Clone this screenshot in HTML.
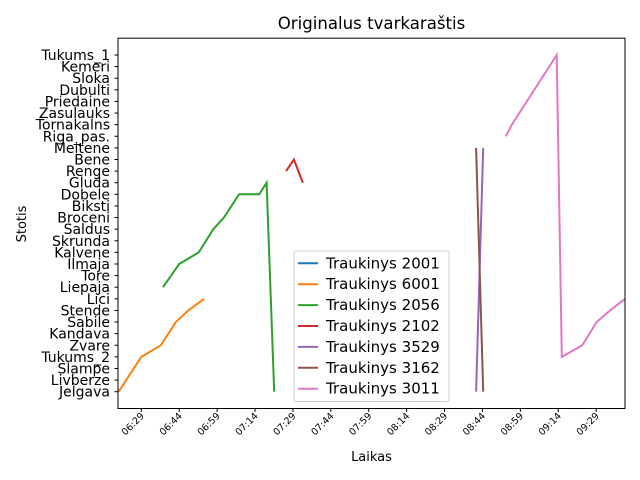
<!DOCTYPE html>
<html><head><meta charset="utf-8"><style>
body{margin:0;background:#fff;}
svg{display:block;font-family:"DejaVu Sans","Liberation Sans",sans-serif;}
</style></head><body>
<svg id="chart" width="640" height="480">
<rect x="0" y="0" width="640" height="480" fill="#fff"/>
<text x="371.5" y="29" font-size="16.6" text-anchor="middle">Originalus tvarkaraštis</text>
<text x="371.5" y="461" font-size="13" text-anchor="middle">Laikas</text>
<text transform="translate(26,224) rotate(-90)" font-size="13" text-anchor="middle">Stotis</text>
<g id="plot"></g>
<g id="axes"></g>
<g id="legend"></g>
</svg>
<script>
const stations = ["Jelgava","Livberze","Slampe","Tukums_2","Zvare","Kandava","Sabile","Stende","Lici","Liepaja","Tore","Ilmaja","Kalvene","Skrunda","Saldus","Broceni","Biksti","Dobele","Gluda","Renge","Bene","Meitene","Riga_pas.","Tornakalns","Zasulauks","Priedaine","Dubulti","Sloka","Kemeri","Tukums_1"];
const xTickMinutes = [389,404,419,434,449,464,479,494,509,524,539,554,569];
const xTickLabels = ["06:29","06:44","06:59","07:14","07:29","07:44","07:59","08:14","08:29","08:44","08:59","09:14","09:29"];
const seriesNames = ["Traukinys 2001","Traukinys 6001","Traukinys 2056","Traukinys 2102","Traukinys 3529","Traukinys 3162","Traukinys 3011"];
const seriesColors = ["#1f77b4","#ff7f0e","#2ca02c","#d62728","#9467bd","#8c564b","#e377c2"];
const times2001 = [];
const stations2001 = [];
const times6001 = [380,389,396.7,402.7,407.6,413.9];
const stations6001 = [0,3,4,6,7,8];
const times2056 = [397.6,404,411.7,417.5,421.7,427.7,435.7,438.6,441.6];
const stations2056 = [9,11,12,14,15,17,17,18,0];
const times2102 = [446.3,449.4,452.9];
const stations2102 = [19,20,18];
const times3529 = [521.5,524.3];
const stations3529 = [0,21];
const times3162 = [521.5,524.3];
const stations3162 = [21,0];
const times3011 = [533.3,535.6,553.4,555.4,563.5,569.2,574.5,580.4];
const stations3011 = [22,23,29,3,4,6,7,8];

const L=118,R=625,T=38.2,B=408.5;
function xs(m){return 141.3+(m-389)*2.527;}
function ys(i){return 391.7-i*(336.7/29);}
const NS="http://www.w3.org/2000/svg";
function mk(tag,attrs,parent){const e=document.createElementNS(NS,tag);for(const k in attrs)e.setAttribute(k,attrs[k]);parent.appendChild(e);return e;}
const svg=document.getElementById('chart');
const defs=mk('defs',{},svg);
const cp=mk('clipPath',{id:'clip'},defs);
mk('rect',{x:L,y:T,width:R-L,height:B-T},cp);
const plot=document.getElementById('plot');
plot.setAttribute('clip-path','url(#clip)');
const allT=[times2001,times6001,times2056,times2102,times3529,times3162,times3011];
const allS=[stations2001,stations6001,stations2056,stations2102,stations3529,stations3162,stations3011];
for(let s=0;s<allT.length;s++){
  if(!allT[s].length)continue;
  const pts=allT[s].map((t,i)=>xs(t).toFixed(1)+","+ys(allS[s][i]).toFixed(1)).join(" ");
  const pl=mk('polyline',{points:pts,fill:'none',stroke:seriesColors[s],'stroke-width':2},plot);
  
  
}
const axes=document.getElementById('axes');
mk('rect',{x:L,y:T,width:R-L,height:B-T,fill:'none',stroke:'#000','stroke-width':1},axes);
stations.forEach((n,i)=>{
  const y=ys(i);
  mk('line',{x1:L-3.5,x2:L,y1:y,y2:y,stroke:'#000'},axes);
  const t=mk('text',{x:L-8,y:y+5,'font-size':14,'text-anchor':'end'},axes);
  t.textContent=n;
  
  
});
xTickMinutes.forEach((m,i)=>{
  const x=xs(m);
  mk('line',{x1:x,x2:x,y1:B,y2:B+3.5,stroke:'#000'},axes);
  const t=mk('text',{transform:`translate(${x+3.5},${B+8}) rotate(-45)`,'font-size':9.5,'text-anchor':'end'},axes);
  t.textContent=xTickLabels[i];
  
  
});
const lg=document.getElementById('legend');
mk('rect',{x:294,y:251,width:155,height:150.5,rx:2,fill:'#fff','fill-opacity':0.8,stroke:'#ccc'},lg);
seriesNames.forEach((n,i)=>{
  const y=263.3+i*20.9;
  mk('line',{x1:298,x2:318,y1:y,y2:y,stroke:seriesColors[i],'stroke-width':2},lg);
  const t=mk('text',{x:326,y:y+5,'font-size':15,'text-anchor':'start'},lg);
  t.textContent=n;
  
  
});
</script>
</body></html>
